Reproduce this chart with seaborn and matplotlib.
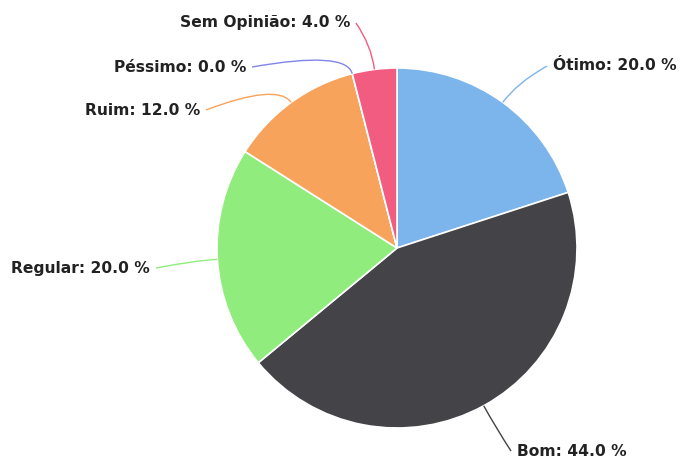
import numpy as np
import matplotlib
matplotlib.use("Agg")
import matplotlib.pyplot as plt
from matplotlib.path import Path
from matplotlib.patches import PathPatch
import seaborn as sns

# Data
categories = ['Ótimo', 'Bom', 'Regular', 'Ruim', 'Péssimo', 'Sem Opinião']
percentages = [20.0, 44.0, 20.0, 12.0, 0.0, 4.0]
colors = ['#7cb5ec', '#434348', '#90ed7d', '#f7a35c', '#8085e9', '#f15c80']

# Layout (pixel coords, origin top-left)
cx, cy, radius = 397, 248, 180
# label anchor (x, y, side) : side 'l' = text left of anchor, 'r' = right
label_pos = [(553, 66, 'r'), (517, 451, 'r'), (150, 268, 'l'),
             (200, 110, 'l'), (246, 67, 'l'), (350, 23, 'l')]

sns.set_theme(style='white')
plt.rcParams['font.family'] = ['DejaVu Sans']

fig = plt.figure(figsize=(6.85, 4.61), dpi=100)
ax = fig.add_axes([0, 0, 1, 1])

ax.pie(percentages, colors=colors, startangle=-90, counterclock=True,
       center=(cx, cy), radius=radius,
       wedgeprops=dict(edgecolor='white', linewidth=1.2))

ax.set_xlim(0, 685)
ax.set_ylim(461, 0)
ax.set_aspect('equal')
ax.axis('off')

# labels + curved connectors
total = sum(percentages)
cum = np.cumsum([0] + percentages)
for i, (name, val) in enumerate(zip(categories, percentages)):
    mid = np.deg2rad((cum[i] + val / 2) / total * 360)
    edge = (cx + radius * np.sin(mid), cy - radius * np.cos(mid))
    bend = (cx + (radius + 24) * np.sin(mid), cy - (radius + 24) * np.cos(mid))
    lx, ly, side = label_pos[i]
    if side == 'r':
        start = (lx - 6, ly)
        ha = 'left'
    else:
        start = (lx + 6, ly)
        ha = 'right'
    path = Path([start, bend, edge], [Path.MOVETO, Path.CURVE3, Path.CURVE3])
    ax.add_patch(PathPatch(path, facecolor='none', edgecolor=colors[i], lw=1))
    ax.text(lx, ly, f'{name}: {val:.1f} %', ha=ha, va='center',
            fontsize=11.2, fontweight='bold', color='#222222')

fig.savefig('out.png', dpi=100, facecolor='white')
